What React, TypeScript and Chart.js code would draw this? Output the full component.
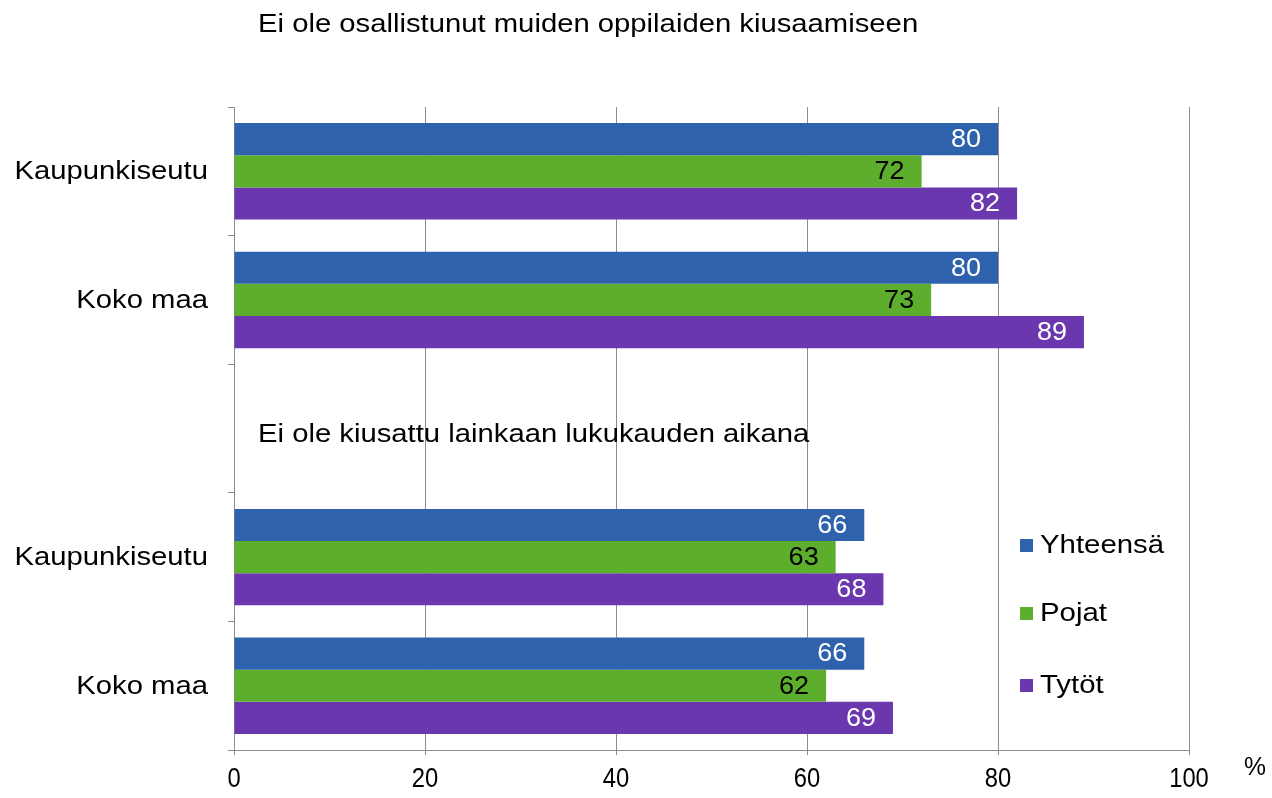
import React, { useEffect, useRef } from "react";
import { Chart, registerables } from "chart.js";
Chart.register(...registerables);

const categories = ["Kaupunkiseutu", "Koko maa", "", "Kaupunkiseutu", "Koko maa"];
const yhteensa = [80, 80, null, 66, 66];
const pojat = [72, 73, null, 63, 62];
const tytot = [82, 89, null, 68, 69];
const seriesNames = ["Yhteensä", "Pojat", "Tytöt"];
const xTicks = [0, 20, 40, 60, 80, 100];
const title1 = "Ei ole osallistunut muiden oppilaiden kiusaamiseen";
const title2 = "Ei ole kiusattu lainkaan lukukauden aikana";

const colors = ["#2F62AC", "#5DAE2D", "#6A37AF"];
const labelColors = ["#ffffff", "#000000", "#ffffff"];
const FONT = "'Liberation Sans', Arial, sans-serif";
const SX = 1.17;

function txt(ctx: any, s: string, x: number, y: number, align: string, size: number, color: string, sx = SX) {
  ctx.save();
  ctx.font = `${size}px ${FONT}`;
  ctx.textBaseline = "middle";
  ctx.textAlign = align;
  ctx.fillStyle = color;
  ctx.translate(x, y);
  ctx.scale(sx, 1);
  ctx.fillText(s, 0, 0);
  ctx.restore();
}

const overlay = {
  id: "overlay",
  afterDatasetsDraw(chart: any) {
    const ctx = chart.ctx;
    chart.data.datasets.forEach((ds: any, di: number) => {
      const meta = chart.getDatasetMeta(di);
      meta.data.forEach((el: any, i: number) => {
        const v = ds.data[i];
        if (v == null) return;
        txt(ctx, String(v), el.x - 17, el.y + 1, "right", 25, labelColors[di], 1.08);
      });
    });
    const y = chart.scales.y;
    categories.forEach((c, i) => {
      if (!c) return;
      txt(ctx, c, 208, y.getPixelForValue(i) + 1, "right", 25, "#000");
    });
    const x = chart.scales.x;
    xTicks.forEach((v) => {
      txt(ctx, String(v), x.getPixelForValue(v), 780, "center", 27, "#000", 0.88);
    });
    txt(ctx, title1, 258, 25, "left", 25, "#000");
    txt(ctx, title2, 258, 435, "left", 25, "#000");
    const ly = [545, 613, 685];
    seriesNames.forEach((n, i) => {
      ctx.fillStyle = colors[i];
      ctx.fillRect(1020, ly[i] - 6, 13, 13);
      txt(ctx, n, 1040, ly[i] + 1, "left", 26, "#000", 1.13);
    });
    txt(ctx, "%", 1244, 768, "left", 26, "#000", 0.95);
  },
};

export default function App() {
  const ref = useRef<HTMLCanvasElement>(null);
  useEffect(() => {
    document.body.style.margin = "0";
    const chart = new Chart(ref.current!, {
      type: "bar",
      data: {
        labels: categories,
        datasets: [yhteensa, pojat, tytot].map((d, i) => ({
          label: seriesNames[i],
          data: d,
          backgroundColor: colors[i],
          barPercentage: 1,
          categoryPercentage: 0.75,
          borderWidth: 0,
        })),
      },
      options: {
        indexAxis: "y",
        animation: false,
        responsive: false,
        layout: { padding: { top: 107, right: 83, left: 0, bottom: 0 } },
        plugins: { legend: { display: false }, tooltip: { enabled: false } },
        scales: {
          x: {
            min: 0,
            max: 100,
            afterBuildTicks(s: any) {
              s.ticks = xTicks.map((v) => ({ value: v }));
            },
            afterFit(s: any) {
              s.height = 48;
            },
            grid: { color: "#8c8c8c", tickLength: 5, lineWidth: 1 },
            border: { color: "#8c8c8c", width: 1 },
            ticks: { display: false },
          },
          y: {
            afterFit(s: any) {
              s.width = 234;
            },
            grid: { drawOnChartArea: false, drawTicks: true, tickLength: 6, color: "#8c8c8c", offset: true },
            border: { color: "#8c8c8c", width: 1 },
            ticks: { display: false },
          },
        },
      },
      plugins: [overlay],
    });
    return () => chart.destroy();
  }, []);
  return <canvas ref={ref} width={1272} height={798} style={{ display: "block" }} />;
}
